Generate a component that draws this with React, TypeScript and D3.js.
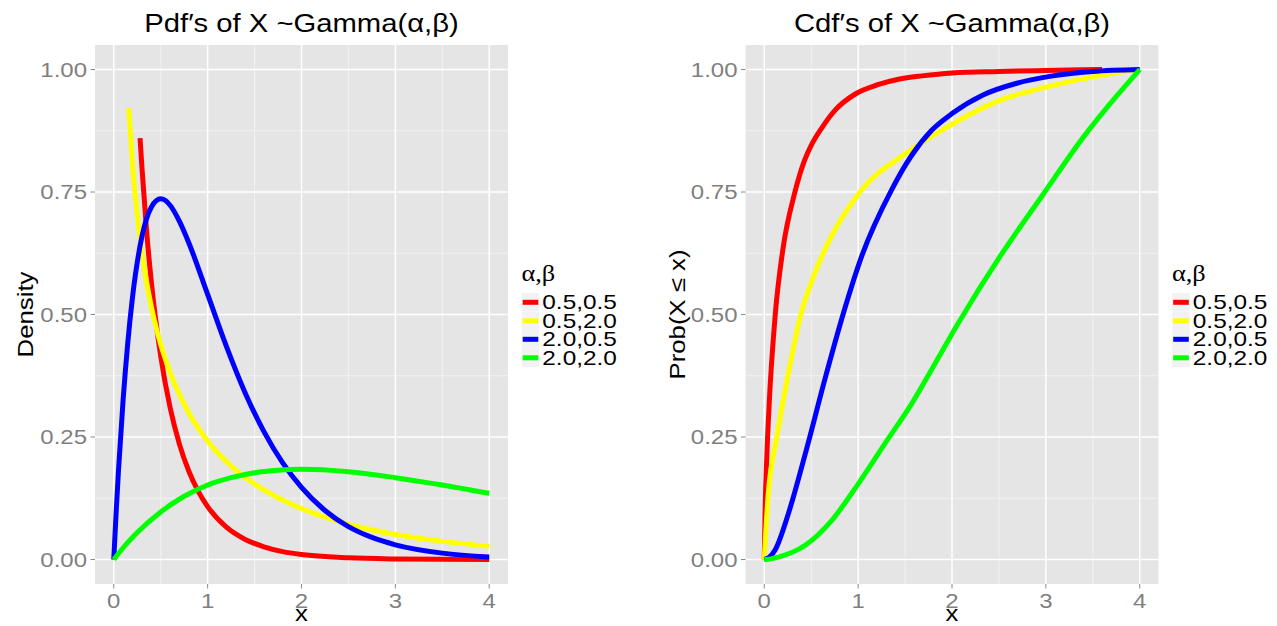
import React from "react";
import * as d3 from "d3";

const seriesLabels = ["0.5,0.5", "0.5,2.0", "2.0,0.5", "2.0,2.0"];
const seriesColors = ["#ff0000", "#ffff00", "#0000ff", "#00ff00"];
const xTicks = [0, 1, 2, 3, 4];
const yTicks = [0, 0.25, 0.5, 0.75, 1];
const yTickLabels = ["0.00", "0.25", "0.50", "0.75", "1.00"];

// PDF series
const pdfRedX = [0.28, 0.3, 0.35, 0.4, 0.45, 0.5, 0.6, 0.7, 0.8, 0.9, 1.0, 1.2, 1.4, 1.6, 1.8, 2.0, 2.5, 3.0, 3.5, 4.0];
const pdfRedY = [0.86, 0.8, 0.67, 0.567, 0.484, 0.415, 0.31, 0.235, 0.18, 0.139, 0.108, 0.066, 0.041, 0.026, 0.016, 0.01, 0.0034, 0.0011, 0.0004, 0.0001];
const pdfYellowX = [0.16, 0.2, 0.25, 0.3, 0.4, 0.5, 0.6, 0.8, 1.0, 1.25, 1.5, 2.0, 2.5, 3.0, 3.5, 4.0];
const pdfYellowY = [0.921, 0.807, 0.704, 0.627, 0.516, 0.439, 0.382, 0.299, 0.242, 0.191, 0.154, 0.104, 0.072, 0.051, 0.037, 0.027];
const pdfBlueX = [0, 0.025, 0.05, 0.1, 0.15, 0.2, 0.3, 0.4, 0.5, 0.6, 0.7, 0.8, 1.0, 1.2, 1.4, 1.6, 1.8, 2.0, 2.25, 2.5, 2.75, 3.0, 3.5, 4.0];
const pdfBlueY = [0, 0.095, 0.181, 0.327, 0.444, 0.536, 0.659, 0.719, 0.736, 0.723, 0.69, 0.646, 0.541, 0.435, 0.34, 0.261, 0.197, 0.147, 0.1, 0.067, 0.045, 0.03, 0.013, 0.005];
const pdfGreenX = [0, 0.1, 0.25, 0.5, 0.75, 1.0, 1.25, 1.5, 1.75, 2.0, 2.5, 3.0, 3.5, 4.0];
const pdfGreenY = [0, 0.024, 0.055, 0.097, 0.129, 0.152, 0.167, 0.177, 0.182, 0.184, 0.179, 0.167, 0.152, 0.135];

// CDF series
const cdfRedX = [0, 0.01, 0.025, 0.053, 0.117, 0.2, 0.32, 0.43, 0.5, 0.61, 0.76, 0.97, 1.21, 1.43, 1.68, 2.0, 2.5, 3.0, 3.6];
const cdfRedY = [0, 0.11, 0.2, 0.32, 0.5, 0.635, 0.745, 0.815, 0.845, 0.88, 0.918, 0.95, 0.969, 0.98, 0.987, 0.993, 0.996, 0.998, 1.0];
const cdfYellowX = [0, 0.04, 0.135, 0.25, 0.4, 0.52, 0.667, 1.02, 1.535, 1.98, 2.51, 3.0, 3.5, 4.0];
const cdfYellowY = [0, 0.128, 0.25, 0.373, 0.507, 0.575, 0.641, 0.75, 0.832, 0.886, 0.937, 0.964, 0.985, 1.0];
const cdfBlueX = [0, 0.05, 0.117, 0.259, 0.436, 0.649, 0.85, 1.04, 1.358, 1.571, 1.784, 2.0, 2.33, 2.69, 3.04, 3.5, 4.0];
const cdfBlueY = [0, 0.004, 0.02, 0.095, 0.215, 0.37, 0.507, 0.62, 0.755, 0.825, 0.876, 0.91, 0.948, 0.972, 0.986, 0.996, 1.0];
const cdfGreenX = [0, 0.02, 0.152, 0.436, 0.72, 1.003, 1.287, 1.571, 1.82, 2.06, 2.51, 2.97, 3.4, 3.75, 4.0];
const cdfGreenY = [0, 0, 0.005, 0.029, 0.08, 0.155, 0.237, 0.318, 0.4, 0.48, 0.618, 0.745, 0.862, 0.945, 1.0];

const pdfSeries = [
  [pdfRedX, pdfRedY],
  [pdfYellowX, pdfYellowY],
  [pdfBlueX, pdfBlueY],
  [pdfGreenX, pdfGreenY],
];
const cdfSeries = [
  [cdfRedX, cdfRedY],
  [cdfYellowX, cdfYellowY],
  [cdfBlueX, cdfBlueY],
  [cdfGreenX, cdfGreenY],
];

const W = 1277;
const H = 626;
const SANS = "'Liberation Sans', Arial, Helvetica, sans-serif";
const SX = 1.17;

function T(props: {
  x: number; y: number; text: string; size: number; fill?: string; anchor?: string;
  rotate?: number; family?: string; sx?: number;
}) {
  const { x, y, text, size, fill = "#000", anchor = "start", rotate = 0, family = SANS, sx = SX } = props;
  return (
    <text
      transform={`translate(${x},${y}) rotate(${rotate}) scale(${sx},1)`}
      fontFamily={family}
      fontSize={size}
      fill={fill}
      textAnchor={anchor as any}
    >
      {text}
    </text>
  );
}

function Panel(props: { left: number; title: string; ylabel: string; ylabelX: number; series: number[][][] }) {
  const { left, title, ylabel, ylabelX, series } = props;
  const pw = 413;
  const top = 45;
  const bottom = 584;
  const x = d3.scaleLinear().domain([-0.2, 4.2]).range([left, left + pw]);
  const y = d3.scaleLinear().domain([-0.05, 1.05]).range([bottom, top]);
  const minorX = [0.5, 1.5, 2.5, 3.5];
  const minorY = [0.125, 0.375, 0.625, 0.875];
  const line = d3
    .line<[number, number]>()
    .x((d) => x(d[0]))
    .y((d) => y(d[1]))
    .curve(d3.curveMonotoneX);
  const cx = left + pw / 2;
  return (
    <g>
      <T x={cx} y={32} text={title} size={25} anchor="middle" />
      <rect x={left} y={top} width={pw} height={bottom - top} fill="#e5e5e5" />
      {minorX.map((v) => (
        <line key={"mx" + v} x1={x(v)} x2={x(v)} y1={top} y2={bottom} stroke="#f2f2f2" strokeWidth={1} />
      ))}
      {minorY.map((v) => (
        <line key={"my" + v} x1={left} x2={left + pw} y1={y(v)} y2={y(v)} stroke="#f2f2f2" strokeWidth={1} />
      ))}
      {xTicks.map((v) => (
        <line key={"gx" + v} x1={x(v)} x2={x(v)} y1={top} y2={bottom} stroke="#ffffff" strokeWidth={1.5} />
      ))}
      {yTicks.map((v) => (
        <line key={"gy" + v} x1={left} x2={left + pw} y1={y(v)} y2={y(v)} stroke="#ffffff" strokeWidth={1.5} />
      ))}
      {series.map((s, i) => {
        const pts = s[0].map((xv, j) => [xv, s[1][j]] as [number, number]);
        return (
          <path
            key={"s" + i}
            d={line(pts) || ""}
            fill="none"
            stroke={seriesColors[i]}
            strokeWidth={5}
            strokeLinecap="butt"
            strokeLinejoin="round"
          />
        );
      })}
      {yTicks.map((v, i) => (
        <g key={"ty" + v}>
          <line x1={left - 4.5} x2={left} y1={y(v)} y2={y(v)} stroke="#8a8a8a" strokeWidth={1} />
          <T x={left - 8} y={y(v) + 7} text={yTickLabels[i]} size={20.5} fill="#7f7f7f" anchor="end" />
        </g>
      ))}
      {xTicks.map((v) => (
        <g key={"tx" + v}>
          <line x1={x(v)} x2={x(v)} y1={bottom} y2={bottom + 4.5} stroke="#8a8a8a" strokeWidth={1} />
          <T x={x(v)} y={608} text={String(v)} size={20.5} fill="#7f7f7f" anchor="middle" />
        </g>
      ))}
      <T x={cx} y={621} text="x" size={22} anchor="middle" />
      <T x={ylabelX} y={(top + bottom) / 2} text={ylabel} size={22} anchor="middle" rotate={-90} />
      {/* legend */}
      <T x={left + 426.5} y={281} text="α,β" size={22.5} family="'Liberation Serif', 'Times New Roman', serif" />
      {seriesLabels.map((lab, i) => {
        const cy = 302.3 + i * 18.5;
        const kx = left + 426.7;
        return (
          <g key={"lg" + i}>
            <rect x={kx} y={cy - 9.25} width={17.6} height={18.5} fill="#f2f2f2" />
            <line x1={kx + 1} x2={kx + 16.6} y1={cy} y2={cy} stroke={seriesColors[i]} strokeWidth={5} />
            <T x={kx + 20.6} y={cy + 7} text={lab} size={20} sx={1.22} />
          </g>
        );
      })}
    </g>
  );
}

export default function App() {
  return (
    <svg
      width={W}
      height={H}
      viewBox={`0 0 ${W} ${H}`}
      style={{ position: "absolute", left: 0, top: 0, background: "#fff" }}
    >
      <rect x={0} y={0} width={W} height={H} fill="#ffffff" />
      <Panel left={95} title="Pdf′s of X ~Gamma(α,β)" ylabel="Density" ylabelX={33} series={pdfSeries} />
      <Panel left={745.5} title="Cdf′s of X ~Gamma(α,β)" ylabel="Prob(X ≤ x)" ylabelX={685} series={cdfSeries} />
    </svg>
  );
}
